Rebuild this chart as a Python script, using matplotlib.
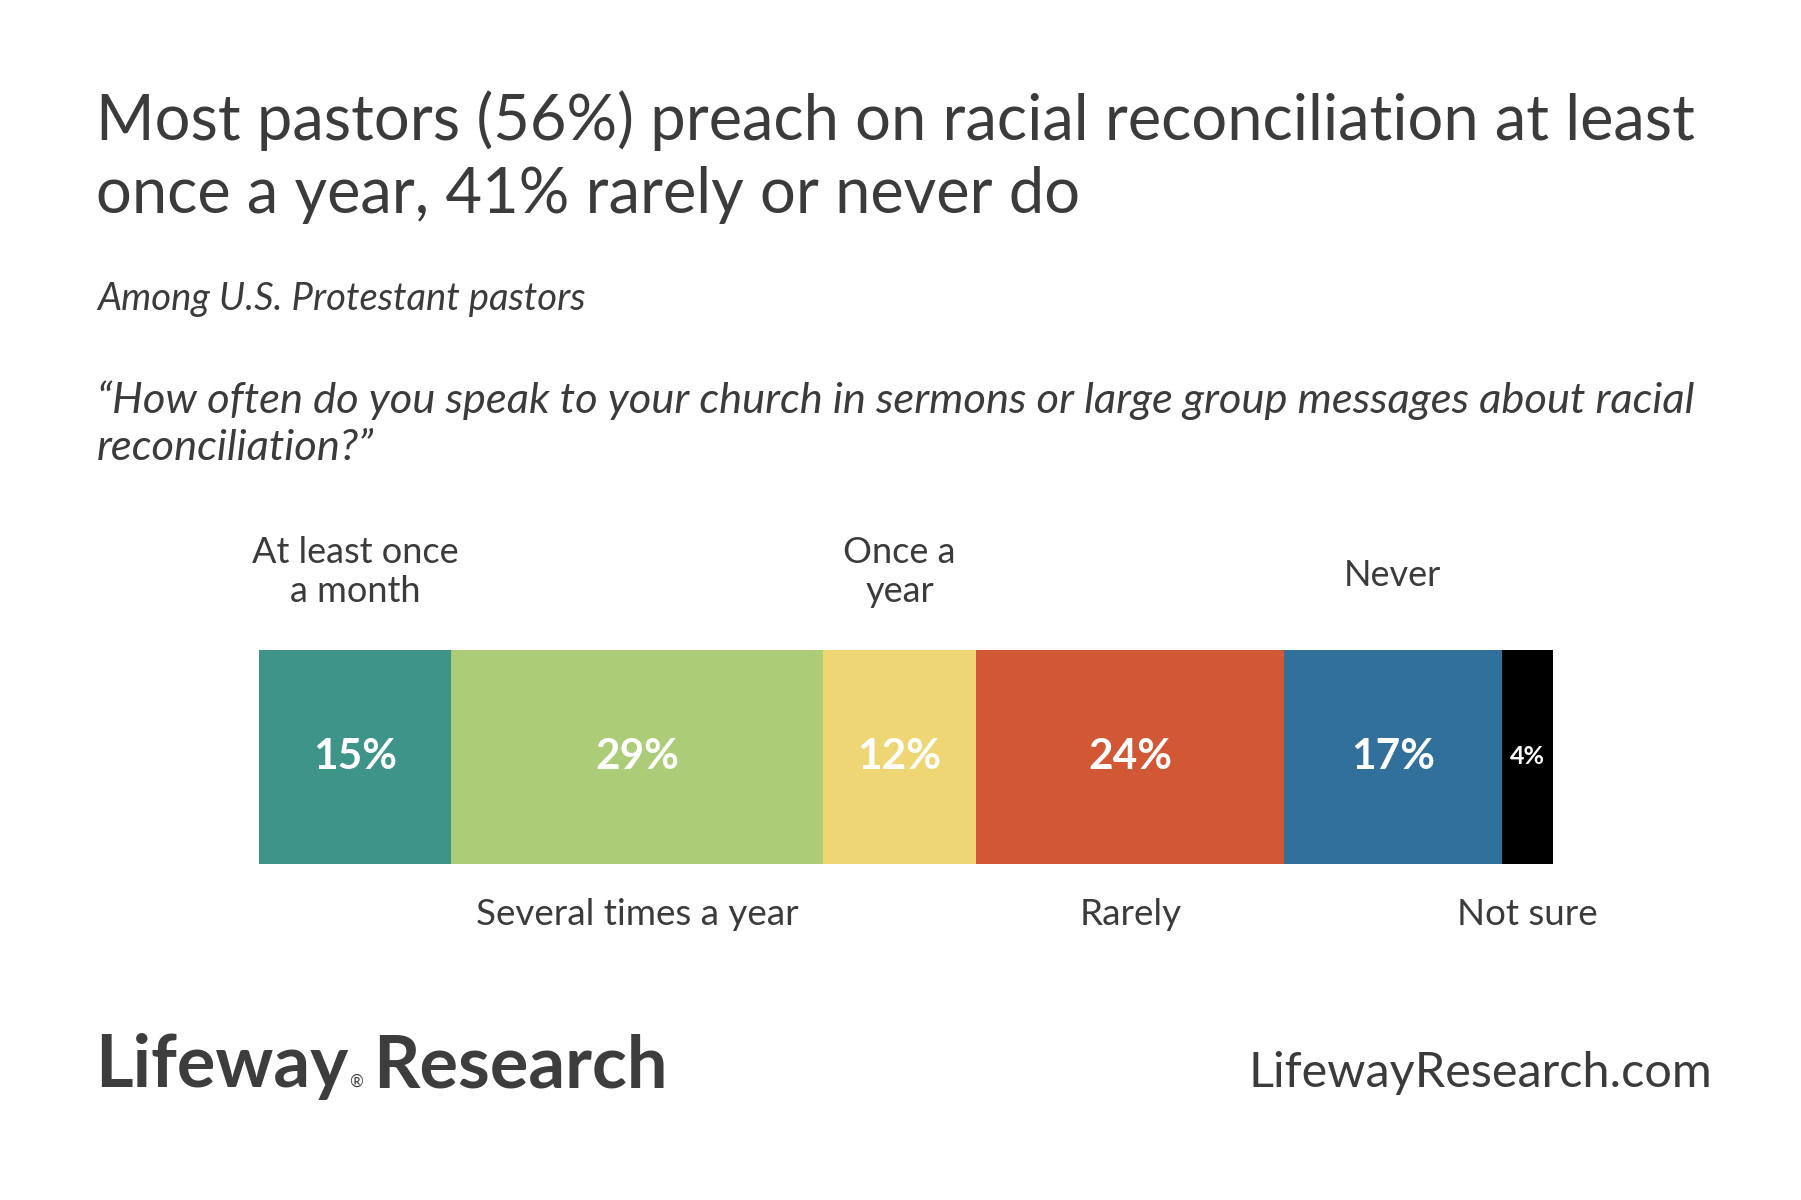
import matplotlib
matplotlib.use("Agg")
import matplotlib.pyplot as plt

plt.rcParams['font.family'] = ['Lato', 'DejaVu Sans']

categories = ["At least once\na month", "Several times a year", "Once a\nyear",
              "Rarely", "Never", "Not sure"]
values = [15, 29, 12, 24, 17, 4]
value_labels = ["15%", "29%", "12%", "24%", "17%", "4%"]
label_above = [True, False, True, False, True, False]
colors = ["#3E9489", "#ADCC78", "#EDD673", "#D15735", "#31709B", "#000000"]

title_lines = ["Most pastors (56%) preach on racial reconciliation at least",
               "once a year, 41% rarely or never do"]
subtitle = "Among U.S. Protestant pastors"
question_lines = ["\u201cHow often do you speak to your church in sermons or large group messages about racial",
                  "reconciliation?\u201d"]

W, H = 1801, 1200
fig = plt.figure(figsize=(W / 100, H / 100), dpi=100)
fig.patch.set_facecolor("white")

def fx(px):
    return px / W

def fy(py):
    return 1 - py / H

text_col = "#3b3b3b"

for line, yb in zip(title_lines, [140, 213]):
    fig.text(fx(96), fy(yb), line, fontsize=45.5, color=text_col, ha="left",
             va="baseline")
fig.text(fx(97), fy(310), subtitle, fontsize=27.5, color=text_col, ha="left",
         va="baseline", style="italic")
for line, yb in zip(question_lines, [413, 460]):
    fig.text(fx(97), fy(yb), line, fontsize=31.3, color=text_col, ha="left",
             va="baseline", style="italic")

ax = fig.add_axes([fx(259), fy(864), fx(1553) - fx(259), (864 - 650) / H])
total = sum(values)
left = 0
trans = ax.get_xaxis_transform()
for cat, v, vl, above, c in zip(categories, values, value_labels, label_above, colors):
    ax.barh(0, v, left=left, height=1, color=c, edgecolor="none")
    cx = left + v / 2
    fs = 30.5 if v > 5 else 18
    ax.text(cx, 0, vl, ha="center", va="center", color="white",
            fontsize=fs, fontweight="bold")
    if above:
        yv = 1.364 if "\n" in cat else 1.346
        ax.text(cx, yv, cat, transform=trans, ha="center", va="center",
                fontsize=26, color=text_col, linespacing=1.22)
    else:
        ax.text(cx, -0.234, cat, transform=trans, ha="center", va="center",
                fontsize=26.5, color=text_col)
    left += v
ax.set_xlim(0, total)
ax.set_ylim(-0.5, 0.5)
ax.axis("off")

# logo: "Lifeway" + small registered mark + "Research"
renderer = fig.canvas.get_renderer()
logo_col = "#3d3d3d"
t1 = fig.text(fx(95), fy(1087), "Lifeway", fontsize=52, fontweight="bold",
              color=logo_col, ha="left", va="baseline")
bb = t1.get_window_extent(renderer)
reg = fig.text(bb.x1 / W + 1 / W, fy(1087), "\u00ae", fontsize=12, color=logo_col,
               ha="left", va="baseline")
bb2 = reg.get_window_extent(renderer)
fig.text(bb2.x1 / W + 10 / W, fy(1087), "Research", fontsize=52, fontweight="bold",
         color=logo_col, ha="left", va="baseline")

fig.text(fx(1712), fy(1087), "LifewayResearch.com", fontsize=35,
         color=text_col, ha="right", va="baseline")

fig.savefig("out.png", dpi=100, facecolor="white")
